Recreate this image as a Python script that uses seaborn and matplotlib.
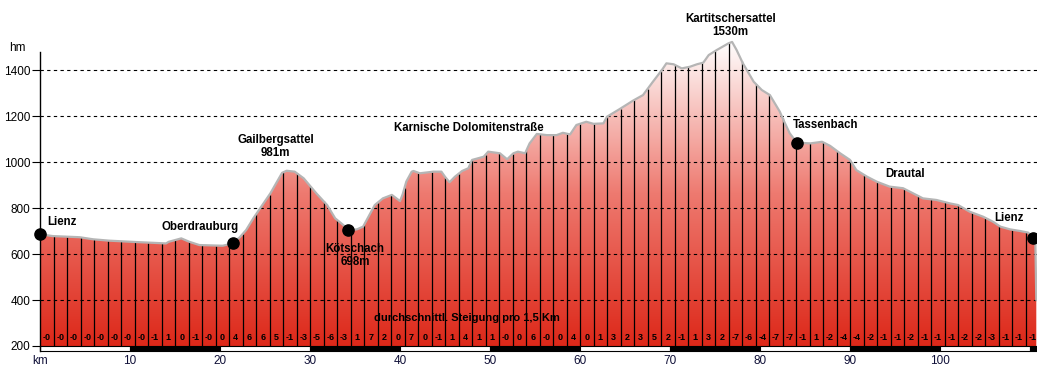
import numpy as np
import matplotlib
matplotlib.use("Agg")
import matplotlib.pyplot as plt
from matplotlib.colors import LinearSegmentedColormap
import seaborn as sns

# elevation profile (km, m)
km = [0.0, 1.4, 4.4, 5.9, 7.7, 10.7, 12.9, 14.0, 14.3, 15.7,
      16.6, 17.7, 20.3, 21.4, 22.2, 22.9, 23.7, 25.6, 26.9, 27.4,
      28.3, 29.3, 30.7, 31.9, 32.8, 33.7, 34.2, 35.2, 35.9, 37.2,
      38.1, 39.1, 40.0, 40.3, 40.7, 41.3, 41.5, 42.2, 43.7, 44.6,
      45.0, 45.5, 46.1, 46.9, 47.6, 48.0, 49.3, 49.8, 51.1, 51.9,
      52.6, 53.1, 53.9, 54.4, 55.2, 56.3, 57.4, 58.1, 58.9, 59.6,
      60.7, 61.5, 62.6, 63.0, 64.4, 65.9, 67.0, 68.1, 69.1, 69.6,
      70.4, 71.3, 72.2, 73.0, 73.7, 74.3, 75.2, 76.5, 76.9, 77.4,
      78.1, 79.3, 80.2, 81.1, 82.2, 82.6, 83.3, 84.1, 85.6, 86.9,
      87.8, 88.9, 90.0, 90.7, 91.9, 93.0, 94.4, 95.9, 97.0, 98.1,
      99.6, 101.1, 102.0, 103.3, 104.8, 105.9, 106.7, 107.8, 108.9, 109.8,
      110.3, 110.6, 110.7]
elev = [686, 678, 673, 664, 658, 652, 648, 646, 653, 668,
        653, 639, 636, 646, 673, 704, 755, 864, 953, 962,
        958, 929, 864, 813, 755, 726, 704, 707, 719, 813,
        842, 857, 830, 860, 915, 958, 961, 951, 958, 958,
        936, 912, 936, 961, 973, 1009, 1023, 1045, 1038, 1012,
        1038, 1045, 1038, 1081, 1122, 1117, 1117, 1127, 1120, 1161,
        1175, 1166, 1168, 1197, 1230, 1267, 1291, 1349, 1400, 1429,
        1425, 1407, 1414, 1425, 1432, 1465, 1487, 1516, 1522, 1487,
        1429, 1349, 1313, 1291, 1219, 1183, 1125, 1084, 1081, 1088,
        1070, 1038, 1009, 965, 936, 914, 893, 886, 864, 842,
        835, 820, 813, 784, 762, 740, 719, 707, 700, 693,
        671, 646, 400]

# average gradient (%) per 1.5 km segment
gradients = ["-0", "-0", "-0", "-0", "-0", "-0", "-0", "-0", "-1", "1",
             "0", "-1", "-0", "0", "4", "6", "6", "5", "-1", "-3",
             "-5", "-6", "-3", "1", "7", "2", "0", "7", "0", "-1",
             "1", "4", "1", "1", "-0", "0", "6", "-0", "0", "4",
             "0", "1", "3", "2", "3", "5", "2", "-1", "1", "3",
             "2", "-7", "-6", "-4", "-7", "-7", "-1", "1", "-2", "-4",
             "-4", "-2", "-1", "-1", "-2", "-1", "-1", "-1", "-2", "-2",
             "-3", "-1", "-1", "-1"]
seg_len = 1.5

place_km = [0.0, 21.4, 34.2, 84.1, 110.3]
place_h = [686, 646, 704, 1084, 671]

label_text = ["Lienz", "Oberdrauburg", "Gailbergsattel\n981m", "Kötschach\n698m",
              "Karnische Dolomitenstraße", "Kartitschersattel\n1530m",
              "Tassenbach", "Drautal", "Lienz"]
label_km = [2.4, 17.8, 26.2, 35.0, 47.6, 76.7, 87.3, 96.1, 107.7]
label_h = [739, 717, 1067, 593, 1148, 1594, 1161, 948, 757]

y_ticks = [200, 400, 600, 800, 1000, 1200, 1400]
x_ticks = [0, 10, 20, 30, 40, 50, 60, 70, 80, 90, 100]
x_labels = ["km", "10", "20", "30", "40", "50", "60", "70", "80", "90", "100"]

sns.set_style("white")
plt.rcParams["font.family"] = ["Liberation Sans", "DejaVu Sans"]
plt.rcParams["text.color"] = "black"
plt.rcParams["xtick.color"] = "black"
plt.rcParams["ytick.color"] = "black"

W, H = 1037, 369
fig = plt.figure(figsize=(W / 100, H / 100), dpi=100)
ax = fig.add_axes([40 / W, 18 / H, (W - 40) / W, 351 / H])
x_max = (W - 40) / 9.0
y_min = 200 - 5 * 4.348
ax.set_xlim(0, x_max)
ax.set_ylim(y_min, 200 + 351 * 4.348 - 5 * 4.348)

# gradient fill under the profile
cmap = LinearSegmentedColormap.from_list("alt", ["#dd2819", "#ee7a70", "#ffffff"])
grad = np.linspace(0, 1, 256).reshape(-1, 1)
im = ax.imshow(grad, extent=[0, x_max, 200, 1530], origin="lower",
               aspect="auto", cmap=cmap, zorder=1)
poly = ax.fill_between(km, 200, elev, color="none", lw=0)
im.set_clip_path(poly.get_paths()[0], transform=ax.transData)

# segment lines every 1.5 km
seg_x = seg_len * np.arange(1, len(gradients))
ax.vlines(seg_x, 200, np.interp(seg_x, km, elev), color="black", lw=0.9, zorder=3)

# dashed grid
for yv in y_ticks[1:]:
    ax.axhline(yv, color="black", lw=0.8, ls=(0, (3, 3)), zorder=4)

# profile outline
sns.lineplot(x=km, y=elev, ax=ax, color="#b5b5b5", lw=1.6, sort=False, zorder=5)

# places
ax.scatter(place_km, place_h, s=65, color="black", zorder=6, clip_on=False)
for t, xk, yh in zip(label_text, label_km, label_h):
    ax.text(xk, yh, t, ha="center", va="center", fontsize=8.3,
            fontweight="bold", linespacing=1.05, zorder=7)

# gradient labels
for i, g in enumerate(gradients):
    ax.text((i + 0.5) * seg_len, 235, g, ha="center", va="center",
            fontsize=6.5, fontweight="bold", zorder=7)
ax.text(47.4, 322, "durchschnittl. Steigung pro 1,5 Km", ha="center",
        va="center", fontsize=8, fontweight="bold", zorder=7)

# km bar below the chart
bar_x = np.arange(0, x_max, 10)
bar_w = [min(10, x_max - b) for b in bar_x]
bar_c = ["white" if i % 2 == 0 else "black" for i in range(len(bar_x))]
ax.bar(bar_x, 200 - y_min - 1, bottom=y_min + 0.5, width=bar_w, align="edge",
       color=bar_c, edgecolor="black", lw=0.8, zorder=4, clip_on=False)

# axes
for s in ["top", "right", "bottom"]:
    ax.spines[s].set_visible(False)
ax.spines["left"].set_bounds(y_min, 1478)
ax.spines["left"].set_linewidth(1.0)
ax.spines["left"].set_color("black")
ax.spines["left"].set_zorder(8)
ax.set_yticks(y_ticks)
ax.set_yticklabels([str(v) for v in y_ticks], fontsize=8.5)
ax.tick_params(axis="y", length=6, width=0.8, pad=1, left=True)
ax.set_xticks(x_ticks)
ax.set_xticklabels(x_labels, fontsize=8.5, color="#101038")
ax.tick_params(axis="x", length=0, pad=3)
fig.text(17 / W, 1 - 48 / H, "hm", ha="center", va="center", fontsize=8.5)

fig.savefig("out.png", dpi=100)
